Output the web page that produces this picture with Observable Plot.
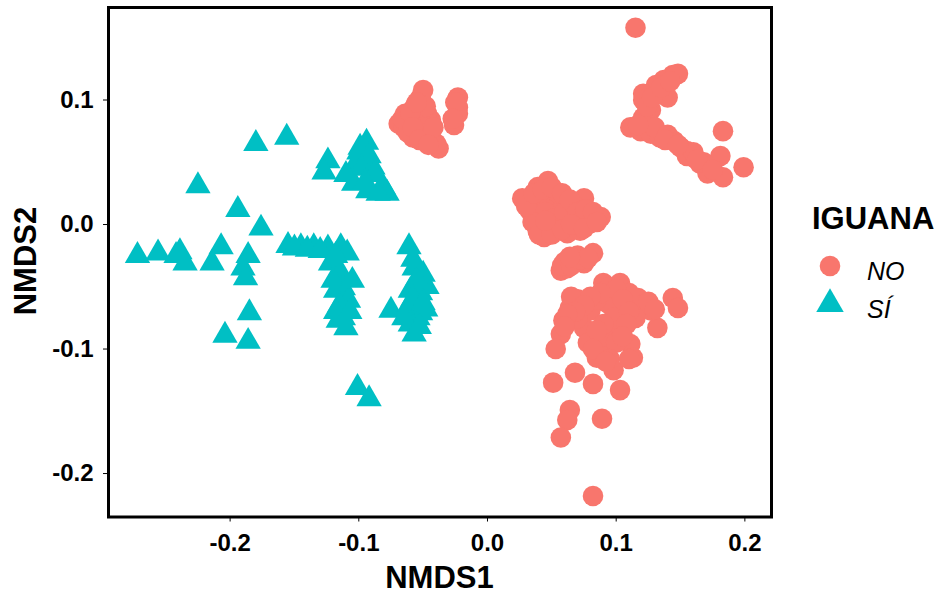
<!DOCTYPE html>
<html>
<head>
<meta charset="utf-8">
<script src="https://cdn.jsdelivr.net/npm/d3@7"></script>
<script src="https://cdn.jsdelivr.net/npm/@observablehq/plot@0.6"></script>
<style>
  html, body { margin: 0; padding: 0; background: #fff; }
  #wrap { position: relative; width: 938px; height: 596px; overflow: hidden; font-family: "Liberation Sans", Arial, sans-serif; color: #000; }
  .ttl { position: absolute; font-weight: bold; white-space: nowrap; }
  .lab { position: absolute; font-style: italic; white-space: nowrap; }
</style>
</head>
<body>
<div id="wrap"></div>
<script>
// ---- data (NMDS coordinates) ----
const groups = ["NO", "SÍ"];
const groupColors = ["#F8766D", "#00BFC4"];
const groupSymbols = ["circle", "triangle"];
const legendTitle = "IGUANA";
const xTitle = "NMDS1";
const yTitle = "NMDS2";
const xTicks = [-0.2, -0.1, 0.0, 0.1, 0.2];
const xTickLabels = ["-0.2", "-0.1", "0.0", "0.1", "0.2"];
const yTicks = [-0.2, -0.1, 0.0, 0.1];
const yTickLabels = ["-0.2", "-0.1", "0.0", "0.1"];

const noPoints = [
  [-0.069,0.081],[-0.064,0.089],[-0.057,0.094],[-0.052,0.102],[-0.050,0.108],[-0.044,0.084],[-0.052,0.075],[-0.058,0.070],
  [-0.038,0.061],[-0.040,0.065],[-0.065,0.078],[-0.047,0.089],[-0.023,0.102],[-0.023,0.094],[-0.023,0.089],[-0.026,0.080],
  [-0.060,0.082],[-0.055,0.085],[-0.048,0.095],[-0.050,0.078],[-0.045,0.072],[-0.062,0.074],
  [-0.066,0.085],[-0.060,0.090],[-0.055,0.098],[-0.058,0.078],[-0.053,0.068],[-0.042,0.078],[-0.046,0.064],[-0.025,0.098],[-0.027,0.085],
  [0.115,0.158],[0.144,0.120],[0.148,0.121],[0.137,0.116],[0.131,0.112],[0.121,0.105],[0.121,0.100],[0.140,0.102],
  [0.127,0.092],[0.121,0.086],[0.111,0.078],[0.119,0.075],[0.127,0.073],[0.134,0.070],[0.145,0.067],[0.150,0.062],
  [0.155,0.059],[0.160,0.054],[0.165,0.049],[0.171,0.046],[0.171,0.041],[0.183,0.038],[0.181,0.055],[0.183,0.075],
  [0.199,0.046],[0.125,0.082],[0.130,0.078],[0.140,0.072],[0.155,0.055],[0.160,0.058],[0.168,0.050],
  [0.124,0.095],[0.128,0.102],[0.135,0.110],[0.142,0.115],[0.117,0.080],[0.138,0.068],[0.148,0.064],[0.163,0.052],[0.175,0.044],
  [0.047,0.035],[0.039,0.030],[0.027,0.021],[0.033,0.011],[0.039,-0.005],[0.049,0.017],[0.059,0.018],[0.075,0.021],
  [0.088,0.006],[0.067,0.006],[0.054,-0.002],[0.072,-0.005],[0.080,0.001],[0.044,-0.010],[0.062,-0.007],
  [0.040,0.020],[0.045,0.010],[0.052,0.005],[0.060,0.010],[0.055,0.025],[0.068,0.015],[0.035,0.002],[0.048,-0.003],
  [0.030,0.015],[0.036,0.025],[0.043,0.028],[0.050,0.030],[0.058,0.025],[0.064,0.020],[0.070,0.010],[0.076,0.012],
  [0.082,0.010],[0.040,-0.008],[0.050,-0.008],[0.058,-0.004],[0.065,0.000],[0.075,-0.003],[0.085,0.002],[0.045,0.003],
  [0.057,-0.037],[0.067,-0.029],[0.082,-0.023],[0.062,-0.035],[0.075,-0.031],[0.070,-0.025],[0.060,-0.030],
  [0.058,-0.033],[0.065,-0.033],[0.072,-0.028],[0.078,-0.027],[0.064,-0.026],
  [0.090,-0.047],[0.103,-0.047],[0.117,-0.059],[0.144,-0.059],[0.148,-0.067],[0.132,-0.083],[0.127,-0.069],[0.106,-0.067],
  [0.093,-0.063],[0.080,-0.069],[0.064,-0.067],[0.059,-0.077],[0.075,-0.083],[0.057,-0.088],[0.053,-0.100],[0.101,-0.085],
  [0.111,-0.096],[0.113,-0.107],[0.085,-0.107],[0.093,-0.101],[0.098,-0.117],[0.103,-0.133],[0.082,-0.128],[0.068,-0.119],
  [0.051,-0.127],[0.064,-0.149],[0.062,-0.157],[0.057,-0.171],[0.089,-0.156],[0.082,-0.218],
  [0.095,-0.050],[0.110,-0.055],[0.085,-0.060],[0.070,-0.060],[0.120,-0.065],[0.098,-0.075],[0.090,-0.090],[0.100,-0.095],
  [0.078,-0.095],[0.070,-0.075],[0.065,-0.058],[0.115,-0.075],
  [0.100,-0.052],[0.105,-0.060],[0.088,-0.055],[0.080,-0.058],[0.075,-0.065],[0.068,-0.070],[0.062,-0.072],[0.060,-0.082],
  [0.125,-0.062],[0.130,-0.068],[0.110,-0.070],[0.108,-0.080],[0.105,-0.090],[0.090,-0.080],[0.085,-0.085],[0.082,-0.100],
  [0.095,-0.108],[0.110,-0.108],[0.092,-0.110]
];

const siPoints = [
  [-0.180,0.065],[-0.156,0.070],[-0.225,0.031],[-0.194,0.012],[-0.176,-0.003],
  [-0.272,-0.025],[-0.256,-0.023],[-0.242,-0.025],[-0.235,-0.031],[-0.239,-0.022],
  [-0.207,-0.018],[-0.214,-0.031],[-0.186,-0.025],[-0.190,-0.035],[-0.188,-0.043],
  [-0.185,-0.071],[-0.204,-0.089],[-0.186,-0.094],
  [-0.155,-0.017],[-0.145,-0.018],[-0.135,-0.018],[-0.124,-0.019],[-0.114,-0.018],[-0.109,-0.023],
  [-0.122,-0.031],[-0.114,-0.039],[-0.118,-0.053],[-0.112,-0.051],[-0.108,-0.061],[-0.116,-0.077],[-0.110,-0.083],[-0.112,-0.075],
  [-0.061,-0.018],[-0.057,-0.035],[-0.054,-0.043],[-0.060,-0.053],[-0.052,-0.055],[-0.075,-0.069],[-0.062,-0.067],[-0.054,-0.075],
  [-0.057,-0.088],[-0.052,-0.071],[-0.047,-0.050],[-0.048,-0.068],[-0.050,-0.040],
  [-0.124,0.051],[-0.127,0.042],[-0.099,0.062],[-0.096,0.051],[-0.104,0.046],[-0.089,0.046],[-0.104,0.033],[-0.093,0.027],
  [-0.081,0.030],[-0.078,0.025],[-0.085,0.025],
  [-0.101,-0.131],[-0.092,-0.140],
  [-0.100,0.058],[-0.094,0.066],[-0.092,0.055],[-0.098,0.045],[-0.110,0.040],[-0.088,0.040],[-0.095,0.034],
  [-0.055,-0.045],[-0.058,-0.060],[-0.050,-0.063],[-0.060,-0.080],[-0.065,-0.075],[-0.053,-0.082],[-0.058,-0.028],
  [-0.150,-0.019],[-0.140,-0.020],[-0.130,-0.021],[-0.118,-0.025],[-0.120,-0.045],[-0.115,-0.065],[-0.118,-0.070],
  [-0.105,-0.045],[-0.107,-0.070]
];

const xDomain = [-0.2945, 0.2207];
const yDomain = [-0.2349, 0.1743];

// ---- build table ----
const rows = [
  ...noPoints.map(([x, y]) => ({x, y, g: groups[0]})),
  ...siPoints.map(([x, y]) => ({x, y, g: groups[1]}))
];

const plot = Plot.plot({
  width: 938,
  height: 596,
  marginLeft: 108,
  marginRight: 167,
  marginTop: 7,
  marginBottom: 79.5,
  style: {fontFamily: "Liberation Sans, Arial, sans-serif", fontSize: "24px", fontWeight: "bold", color: "#000", background: "#fff"},
  x: {domain: xDomain, ticks: xTicks, tickFormat: (d) => xTickLabels[xTicks.indexOf(+d.toFixed(1))], tickSize: 5, tickPadding: 12, label: null},
  y: {domain: yDomain, ticks: yTicks, tickFormat: (d) => yTickLabels[yTicks.indexOf(+d.toFixed(1))], tickSize: 5, tickPadding: 10, label: null},
  color: {domain: groups, range: groupColors},
  symbol: {domain: groups, range: groupSymbols},
  marks: [
    Plot.dot(rows.filter(d => d.g === groups[0]), {x: "x", y: "y", fill: "g", symbol: "g", r: 10.3}),
    Plot.dot(rows.filter(d => d.g === groups[1]), {x: "x", y: "y", fill: "g", symbol: "g", r: 9.4}),
    Plot.frame({stroke: "#000", strokeWidth: 3})
  ]
});

const wrap = document.getElementById("wrap");
wrap.appendChild(plot);

// axis titles
const xt = document.createElement("div");
xt.className = "ttl";
xt.textContent = xTitle;
Object.assign(xt.style, {left: "0px", width: "879px", textAlign: "center", top: "561px", fontSize: "31px", lineHeight: "34px"});
wrap.appendChild(xt);

const yt = document.createElement("div");
yt.className = "ttl";
yt.textContent = yTitle;
Object.assign(yt.style, {left: (25.6 - 100) + "px", top: (260.5 - 16) + "px", width: "200px", height: "32px", textAlign: "center", fontSize: "31px", lineHeight: "32px", transform: "rotate(-90deg)"});
wrap.appendChild(yt);

// legend
const lt = document.createElement("div");
lt.className = "ttl";
lt.textContent = legendTitle;
Object.assign(lt.style, {left: "812px", top: "203px", fontSize: "31px", lineHeight: "31px"});
wrap.appendChild(lt);

const legSvg = d3.select(wrap).append("svg")
  .attr("width", 60).attr("height", 90)
  .style("position", "absolute").style("left", "800px").style("top", "240px");
const symR = [10.3, 10.2];
const symCy = [26, 64];
const d3Sym = {circle: d3.symbolCircle, triangle: d3.symbolTriangle};
groups.forEach((g, i) => {
  legSvg.append("path")
    .attr("transform", `translate(30,${symCy[i]})`)
    .attr("d", d3.symbol(d3Sym[groupSymbols[i]], Math.PI * symR[i] * symR[i])())
    .attr("fill", groupColors[i]);
  const lb = document.createElement("div");
  lb.className = "lab";
  lb.textContent = g;
  Object.assign(lb.style, {left: "867px", top: (i === 0 ? 259 : 297) + "px", fontSize: "25px", lineHeight: "25px"});
  wrap.appendChild(lb);
});
</script>
</body>
</html>
